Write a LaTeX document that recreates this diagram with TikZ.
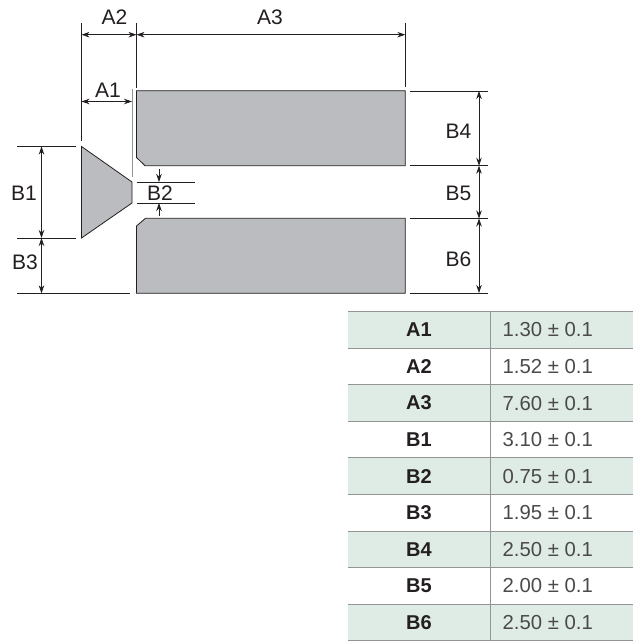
\documentclass[tikz,border=0pt]{standalone}
\usepackage{fontspec}
\setmainfont{Liberation Sans}
\usetikzlibrary{arrows.meta}
\definecolor{metal}{HTML}{BBBCC0}
\definecolor{rowtint}{HTML}{DFECE5}
\definecolor{rule}{HTML}{939595}
\definecolor{ink}{HTML}{231F20}
\definecolor{soft}{HTML}{4A4A4A}
\tikzset{
  x=1pt,y=-1pt,
  part/.style={draw=ink,line width=0.8pt,fill=metal,line join=miter},
  extline/.style={draw=ink,line width=0.7pt},
  dimline/.style={draw=ink,line width=0.7pt,{Stealth[length=8pt,width=5.5pt]}-{Stealth[length=8pt,width=5.5pt]}},
  downtip/.style={draw=ink,line width=0.7pt,-{Stealth[length=8pt,width=5.5pt]}},
  dimlabel/.style={inner sep=0pt,text=ink,font=\fontsize{21}{23}\selectfont},
  keycell/.style={inner sep=0pt,text=ink,font=\fontsize{20}{22}\selectfont\bfseries},
  valcell/.style={inner sep=0pt,anchor=west,text=soft,font=\fontsize{20.3}{22}\selectfont},
  tablerule/.style={draw=rule,line width=1pt},
}
\begin{document}
\begin{tikzpicture}
\useasboundingbox (0,0) rectangle (639,642);
% parts
\draw[part] (81.5,146.5) -- (132,182) -- (132,203) -- (81.5,238) -- cycle;
\draw[part] (136.5,90.7) -- (405.3,90.7) -- (405.3,165.7) -- (145,165.7) -- (136.5,157.5) -- cycle;
\draw[part] (145.5,218.3) -- (405.3,218.3) -- (405.3,293.3) -- (136.5,293.3) -- (136.5,226) -- cycle;
% named points
\coordinate (a2l) at (81.5,34.7);
\coordinate (a2r) at (136.5,34.7);
\coordinate (a3r) at (405.3,34.7);
\coordinate (a1l) at (81.5,101.5);
\coordinate (a1r) at (132,101.5);
\coordinate (b1t) at (41.5,146.5);
\coordinate (b1b) at (41.5,238);
\coordinate (b3b) at (41.5,293.3);
\coordinate (r1) at (479,91);
\coordinate (r2) at (479,165.7);
\coordinate (r3) at (479,218.5);
\coordinate (r4) at (479,293);
\coordinate (b2a) at (159,169);
\coordinate (b2b) at (159,182);
\coordinate (b2c) at (159,203);
\coordinate (b2d) at (159,216);
% extension lines
\draw[extline] (81.5,23) -- (81.5,141);
\draw[extline] (136.5,23) -- (136.5,88);
\draw[extline] (405.3,23) -- (405.3,87);
\draw[draw=rule,line width=1pt] (132,88.5) -- (132,177);
\draw[extline] (17,146.5) -- (76,146.5);
\draw[extline] (17,238) -- (76,238);
\draw[extline] (17,293.3) -- (130,293.3);
\draw[extline] (136.5,182) -- (195,182);
\draw[extline] (136.5,203) -- (195,203);
\draw[extline] (410,91) -- (488,91);
\draw[extline] (410,165.7) -- (488,165.7);
\draw[extline] (410,218.5) -- (488,218.5);
\draw[extline] (410,293) -- (488,293);
% dimension lines
\draw[dimline] (a2l) -- (a2r);
\draw[dimline] (a2r) -- (a3r);
\draw[dimline] (a1l) -- (a1r);
\draw[dimline] (b1t) -- (b1b);
\draw[dimline] (b1b) -- (b3b);
\draw[dimline] (r1) -- (r2);
\draw[dimline] (r2) -- (r3);
\draw[dimline] (r3) -- (r4);
\draw[downtip] (b2a) -- (b2b);
\draw[downtip] (b2d) -- (b2c);
% labels
\node[dimlabel] (lA2) at (114.5,17) {A2};
\node[dimlabel] (lA3) at (270,17) {A3};
\node[dimlabel] (lA1) at (108,90) {A1};
\node[dimlabel] (lB1) at (24,193) {B1};
\node[dimlabel] (lB3) at (25,262) {B3};
\node[dimlabel] (lB2) at (160,193) {B2};
\node[dimlabel] (lB4) at (458.5,131) {B4};
\node[dimlabel] (lB5) at (458.5,193) {B5};
\node[dimlabel] (lB6) at (458.5,259) {B6};
% table
\foreach \i/\k/\v in {0/A1/1.30,1/A2/1.52,2/A3/7.60,3/B1/3.10,4/B2/0.75,5/B3/1.95,6/B4/2.50,7/B5/2.00,8/B6/2.50}{
  \pgfmathsetmacro{\yt}{311.7+36.55*\i}
  \pgfmathsetmacro{\yc}{\yt+18.3}
  \pgfmathparse{int(mod(\i,2))}
  \ifnum\pgfmathresult=0
    \fill[rowtint] (348,\yt) rectangle (633,\yt+36.55);
  \fi
  \node[keycell] (key\i) at (419,\yc) {\k};
  \node[valcell] (val\i) at (502.5,\yc) {\v{} ± 0.1};
}
\foreach \i in {0,...,9}{
  \pgfmathsetmacro{\yt}{311.7+36.55*\i}
  \draw[tablerule] (348,\yt) -- (633,\yt);
}
\draw[tablerule] (490,311.7) -- (490,640.7);
\end{tikzpicture}
\end{document}
